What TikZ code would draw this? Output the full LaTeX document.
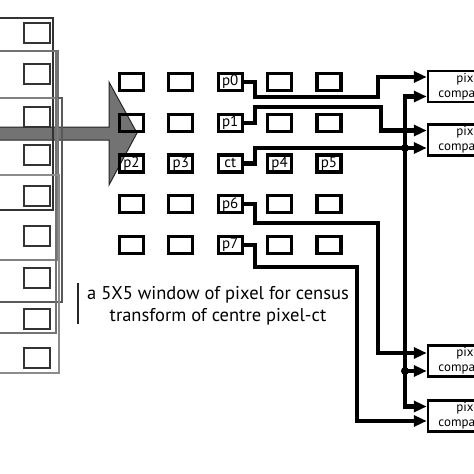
\documentclass[tikz,border=0pt]{standalone}
\usepackage{fontspec}
\setsansfont{PT Sans}
\usetikzlibrary{arrows.meta}

\begin{document}
\begin{tikzpicture}[
  x=1pt, y=-1pt,
  cell/.style={rectangle, draw, line width=3.2pt, minimum width=24pt, minimum height=17pt, inner sep=0pt, font=\sffamily\fontsize{15}{15}\selectfont},
  cmp/.style={rectangle, draw, line width=2.5pt, minimum width=84pt, minimum height=31pt, inner sep=0pt, align=center, font=\sffamily\fontsize{13}{15}\selectfont},
  wire/.style={line width=4.2pt},
  sig/.style={wire, -{Triangle[length=13pt,width=11pt]}},
  frame/.style={line width=1.3pt},
  pix/.style={draw=black!80, line width=2pt},
  dot/.style={circle, fill, inner sep=0pt, minimum size=8pt}
]
\useasboundingbox (0,0) rectangle (474,474);

% image stack and window arrow
\fill[black!55, draw=black!85, line width=1pt] (-5,127) -- (109,127) -- (109,82) -- (137,133)
  -- (109,185) -- (109,140) -- (-5,140) -- cycle;
\draw[frame, black!80] (-5,18) rectangle (53,210);
\draw[frame, black!55] (-5,51) rectangle (58,175);
\draw[frame, black!65] (-5,98) rectangle (62,302);
\draw[frame, black!50] (-5,98) rectangle (57,260);
\draw[frame, black!55] (-5,51) rectangle (56,333);
\draw[frame, black!45] (-5,175) rectangle (59,373);
\foreach \t in {23,64,107,145,186,226,268,309,348}
  \draw[pix] (24,\t) rectangle (50,{\t+20});

% 5x5 window
\foreach \c/\r in {1/1,2/1,4/1,5/1,1/2,2/2,4/2,5/2,1/4,2/4,4/4,5/4,1/5,2/5,4/5,5/5}
  \node[cell] (g\c\r) at ({82+49.4*\c},{41+40.8*\r}) {};
\node[cell] (p0) at (230.2,81.8) {p0};
\node[cell] (p1) at (230.2,122.6) {p1};
\node[cell] (p2) at (131.4,163.4) {p2};
\node[cell] (p3) at (180.8,163.4) {p3};
\node[cell] (ct) at (230.2,163.4) {ct};
\node[cell] (p4) at (279.6,163.4) {p4};
\node[cell] (p5) at (329,163.4) {p5};
\node[cell] (p6) at (230.2,204.2) {p6};
\node[cell] (p7) at (230.2,245) {p7};

\node[font=\sffamily\fontsize{18.5}{22}\selectfont, align=center, inner sep=0pt] (cap) at (218,306)
  {a 5X5 window of pixel for census\\transform of centre pixel-ct};
\draw[line width=2.5pt, black!85] ([xshift=-9pt,yshift=3pt]cap.north west) -- ([xshift=-9pt,yshift=2pt]cap.south west);

% comparators
\node[cmp] (cmp1) at (470,86.5) {pixel\\comparator};
\node[cmp] (cmp2) at (470,140) {pixel\\comparator};
\node[cmp] (cmp3) at (470,361) {pixel\\comparator};
\node[cmp] (cmp4) at (470,416) {pixel\\comparator};

\coordinate (in1a) at ([yshift=9.5pt]cmp1.west);
\coordinate (in1b) at ([yshift=-10pt]cmp1.west);
\coordinate (in2a) at ([yshift=9.5pt]cmp2.west);
\coordinate (in2b) at ([yshift=-8pt]cmp2.west);
\coordinate (in3a) at ([yshift=8pt]cmp3.west);
\coordinate (in3b) at ([yshift=-10pt]cmp3.west);
\coordinate (in4a) at ([yshift=9.5pt]cmp4.west);
\coordinate (in4b) at ([yshift=-5pt]cmp4.west);
\coordinate (b0) at (378,97);
\coordinate (b1) at (381,107);
\coordinate (b6) at (378,223);
\coordinate (b7) at (357,267);
\coordinate (busx) at (405,0);
\coordinate (j1) at (busx |- in2b);
\coordinate (j2) at (busx |- in3b);

\draw[sig] (p0.east) -- ++(11,0) |- (b0) |- (in1a);
\draw[sig] (p1.east) -- ++(11,0) |- (b1) |- (in2a);
\draw[sig] (ct.east) -- ++(11,0) |- (in2b);
\draw[sig] (p6.east) -- ++(11,0) |- (b6) |- (in3a);
\draw[sig] (p7.east) -- ++(11,0) |- (b7) |- (in4b);
\draw[sig] (j1) |- (in1b);
\draw[sig] (j1) |- (in4a);
\draw[sig] (j2) -- (in3b);
\node[dot] (d1) at (j1) {};
\node[dot] (d2) at (j2) {};
\end{tikzpicture}
\end{document}
